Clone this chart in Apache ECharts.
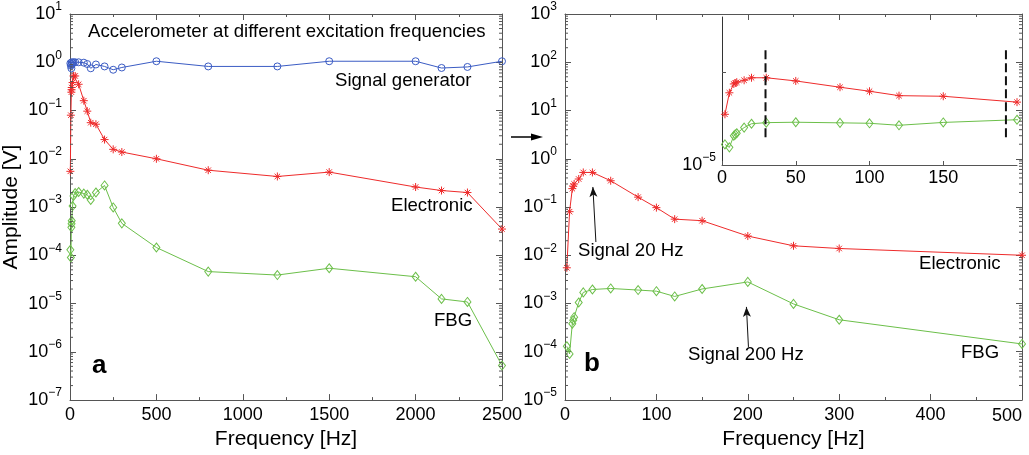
<!DOCTYPE html>
<html>
<head>
<meta charset="utf-8">
<script src="https://cdn.jsdelivr.net/npm/echarts@6/dist/echarts.min.js"></script>
<style>
html,body{margin:0;padding:0;background:#fff;}
#chart{width:1029px;height:455px;}
</style>
</head>
<body>
<div id="chart"></div>
<script>
// ---------------- data ----------------
const freq = [2, 5, 8, 9, 10, 15, 20, 30, 50, 80, 100, 120, 150, 200, 250, 300, 500, 800, 1200, 1500, 2000, 2150, 2300, 2500];
const signalGen = [0.95, 0.85, 0.75, 0.9, 1.0, 0.95, 1.0, 1.0, 1.0, 0.98, 0.92, 0.75, 0.9, 0.82, 0.7, 0.78, 1.05, 0.82, 0.82, 1.05, 1.05, 0.76, 0.8, 1.05];
const electronic = [0.0055, 0.08, 0.24, 0.27, 0.3, 0.38, 0.52, 0.52, 0.35, 0.16, 0.097, 0.056, 0.052, 0.025, 0.0157, 0.0138, 0.01, 0.0058, 0.0043, 0.0053, 0.0026, 0.0022, 0.002, 0.00035];
const fbg = [1.3e-4, 9e-5, 3.8e-4, 4.5e-4, 5.2e-4, 1.05e-3, 1.7e-3, 1.95e-3, 2.05e-3, 1.9e-3, 1.8e-3, 1.4e-3, 2.0e-3, 2.8e-3, 9.8e-4, 4.6e-4, 1.45e-4, 4.6e-5, 3.9e-5, 5.4e-5, 3.6e-5, 1.25e-5, 1.08e-5, 5.2e-7];

// inset dashed marker lines (x positions, y span)
const insetMarkers = [29.5, 192.5];
const markerSpan = [3.2e-4, 21];

// arrows in panel b: [tail, tip] in data coords
const arrow20 = [[33.8, 0.0188], [30.5, 0.26]];
const arrow200 = [[200.7, 1.26e-4], [198.5, 8.5e-4]];

// axis ranges / ticks
const xA = {min: 0, max: 2500, interval: 500};
const yA = {min: 1e-7, max: 1e1};
const xB = {min: 0, max: 500, interval: 100};
const yB = {min: 1e-5, max: 1e3};
const xI = {min: 0, max: 200, interval: 50};
const insetTicks = [1];
const minorMult = [2, 3, 4, 5, 6, 7, 8, 9];

// ---------------- styling ----------------
const FONT = 'Liberation Sans, Arial, Helvetica, sans-serif';
const AX = '#555';
const BLUE = '#3b5cc4', RED = '#ee2b2b', GREEN = '#6cbf4a';
const ASTER = 'path://M5,0L5,10M0,5L10,5M1.6,1.6L8.4,8.4M8.4,1.6L1.6,8.4';
const TF = '18.6px ' + FONT;

const pairs = (arr) => freq.map((f, i) => [f, arr[i]]);

function logLabel(v) {
  const e = Math.round(Math.log10(v));
  return '{b|10}{s|' + (e < 0 ? '\u2212' + (-e) : e) + '}';
}
const richLog = {
  b: {fontSize: 18, lineHeight: 26, fontFamily: FONT, color: '#000'},
  s: {fontSize: 12, lineHeight: 12, padding: [0, 0, 14, 0], fontFamily: FONT, color: '#000'}
};

function minorValues(ymin, ymax) {
  const out = [];
  const e0 = Math.round(Math.log10(ymin)), e1 = Math.round(Math.log10(ymax));
  for (let e = e0; e < e1; e++) minorMult.forEach(m => out.push(m * Math.pow(10, e)));
  return out;
}

function tickSeries(xi, yi, xmin, values, len, both) {
  return {
    type: 'custom', xAxisIndex: xi, yAxisIndex: yi, silent: true, z: 5,
    data: values.map(v => [xmin, v]),
    renderItem: function (params, api) {
      const cs = params.coordSys;
      const y = api.coord([api.value(0), api.value(1)])[1];
      const st = {stroke: AX, lineWidth: 1};
      const ch = [{type: 'line', shape: {x1: cs.x, y1: y, x2: cs.x + len, y2: y}, style: st}];
      if (both) ch.push({type: 'line', shape: {x1: cs.x + cs.width, y1: y, x2: cs.x + cs.width - len, y2: y}, style: st});
      return {type: 'group', children: ch};
    }
  };
}

function xAxisMain(grid, r, showLabels, pos, hideMax) {
  return {
    type: 'value', gridIndex: grid, position: pos, min: r.min, max: r.max, interval: r.interval,
    axisLine: {show: true, onZero: false, lineStyle: {color: AX, width: 1}},
    axisTick: {show: true, inside: true, length: 6, lineStyle: {color: AX}},
    minorTick: {show: true, splitNumber: 2, length: 3, lineStyle: {color: AX}},
    splitLine: {show: false},
    axisLabel: {show: showLabels, showMaxLabel: !hideMax, fontSize: 18, fontFamily: FONT, color: '#000', margin: 6,
      formatter: v => String(v)},
  };
}
function yAxisMain(grid, r, showLabels, pos) {
  return {
    type: 'log', logBase: 10, gridIndex: grid, position: pos, min: r.min, max: r.max,
    axisLine: {show: true, onZero: false, lineStyle: {color: AX, width: 1}},
    axisTick: {show: true, inside: true, length: 6, lineStyle: {color: AX}},
    minorTick: {show: false},
    splitLine: {show: false},
    axisLabel: {show: showLabels, formatter: logLabel, rich: richLog, margin: 8},
  };
}

const nameStyle = {fontSize: 21, fontFamily: FONT, color: '#000'};
const xAxes = [
  Object.assign(xAxisMain(0, xA, true, 'bottom'), {name: 'Frequency [Hz]', nameLocation: 'middle', nameGap: 28, nameTextStyle: nameStyle}),
  xAxisMain(0, xA, false, 'top'),
  Object.assign(xAxisMain(1, xB, true, 'bottom', true), {name: 'Frequency [Hz]', nameLocation: 'middle', nameGap: 28, nameTextStyle: nameStyle}),
  xAxisMain(1, xB, false, 'top'),
  {
    type: 'value', gridIndex: 2, position: 'bottom', min: xI.min, max: xI.max, interval: xI.interval,
    axisLine: {show: true, onZero: false, lineStyle: {color: AX}},
    axisTick: {show: true, inside: true, length: 4, lineStyle: {color: AX}},
    splitLine: {show: false},
    axisLabel: {show: true, showMaxLabel: false, fontSize: 18, fontFamily: FONT, color: '#000', margin: 4,
      formatter: v => String(v)}
  }
];

const yAxes = [
  Object.assign(yAxisMain(0, yA, true, 'left'), {name: 'Amplitude [V]', nameLocation: 'middle', nameGap: 48, nameTextStyle: nameStyle}),
  yAxisMain(0, yA, false, 'right'),
  yAxisMain(1, yB, true, 'left'),
  yAxisMain(1, yB, false, 'right'),
  {
    type: 'log', logBase: 10, gridIndex: 2, position: 'left', min: yB.min, max: yB.max,
    axisLine: {show: true, onZero: false, lineStyle: {color: '#333'}},
    axisTick: {show: false}, splitLine: {show: false},
    axisLabel: {show: true, rich: richLog, margin: 6,
      formatter: v => (Math.abs(v - yB.min) / yB.min < 1e-6 ? logLabel(v) : '')}
  }
];

function lineSeries(name, xi, yi, data, color, symbol, size, extra) {
  return Object.assign({
    name: name, type: 'line', xAxisIndex: xi, yAxisIndex: yi, data: data,
    symbol: symbol, symbolSize: size, showSymbol: true, showAllSymbol: true,
    lineStyle: {color: color, width: 1}, itemStyle: {color: 'rgba(0,0,0,0)', borderColor: color, borderWidth: 1},
    silent: true, z: 3
  }, extra || {});
}

const series = [
  // panel a
  lineSeries('Signal generator', 0, 0, pairs(signalGen), BLUE, 'circle', 7),
  lineSeries('Electronic', 0, 0, pairs(electronic), RED, ASTER, 8),
  lineSeries('FBG', 0, 0, pairs(fbg), GREEN, 'diamond', [7, 9]),
  tickSeries(0, 0, xA.min, minorValues(yA.min, yA.max), 3, true),
  // panel b
  lineSeries('Electronic', 2, 2, pairs(electronic), RED, ASTER, 8, {
    markLine: {
      silent: true, symbol: ['none', 'arrow'], symbolSize: [6, 10], animation: false,
      lineStyle: {color: '#111', width: 1, type: 'solid'}, label: {show: false},
      data: [
        [{coord: arrow20[0]}, {coord: arrow20[1]}],
        [{coord: arrow200[0]}, {coord: arrow200[1]}]
      ]
    }
  }),
  lineSeries('FBG', 2, 2, pairs(fbg), GREEN, 'diamond', [7, 9]),
  tickSeries(2, 2, xB.min, minorValues(yB.min, yB.max), 3, true),
  // inset
  lineSeries('Electronic', 4, 4, pairs(electronic), RED, ASTER, 8),
  lineSeries('FBG', 4, 4, pairs(fbg), GREEN, 'diamond', [7, 9]),
  tickSeries(4, 4, xI.min, insetTicks, 4, false)
].concat(insetMarkers.map(x => ({
  type: 'line', xAxisIndex: 4, yAxisIndex: 4, data: [[x, markerSpan[0]], [x, markerSpan[1]]],
  symbol: 'none', silent: true, z: 4, lineStyle: {color: '#111', width: 2, type: [9, 4]}
})));

function txt(x, y, s, opts) {
  return {type: 'text', x: x, y: y, silent: true, z: 50, style: Object.assign({
    text: s, fill: '#000', font: TF, textVerticalAlign: 'middle', textAlign: 'left'
  }, opts || {})};
}

const graphics = [
  txt(88, 32, 'Accelerometer at different excitation frequencies'),
  txt(335, 81, 'Signal generator'),
  txt(391, 206, 'Electronic'),
  txt(434, 321, 'FBG'),
  txt(92, 366, 'a', {font: 'bold 26px ' + FONT}),
  txt(584, 364, 'b', {font: 'bold 26px ' + FONT}),
  txt(578, 251, 'Signal 20 Hz'),
  txt(919, 264, 'Electronic'),
  txt(688, 355, 'Signal 200 Hz'),
  txt(961, 353, 'FBG'),
  // last tick label of panel b, right-aligned to the frame as in the reference
  txt(1022, 416, String(xB.max), {font: '18px ' + FONT, textAlign: 'right'}),
  {type: 'line', silent: true, shape: {x1: 511, y1: 137, x2: 534, y2: 137}, style: {stroke: '#000', lineWidth: 1.5}},
  {type: 'polygon', silent: true, shape: {points: [[543, 137], [531, 133.5], [531, 140.5]]}, style: {fill: '#000'}}
];

const option = {
  animation: false,
  backgroundColor: '#fff',
  grid: [
    {left: 68, top: 14, width: 434, height: 388},
    {left: 565, top: 14, width: 457, height: 386},
    {left: 722, top: 17, width: 295, height: 148}
  ],
  xAxis: xAxes,
  yAxis: yAxes,
  series: series,
  graphic: graphics
};

const chart = echarts.init(document.getElementById('chart'), null, {renderer: 'canvas'});
chart.setOption(option);
</script>
</body>
</html>
